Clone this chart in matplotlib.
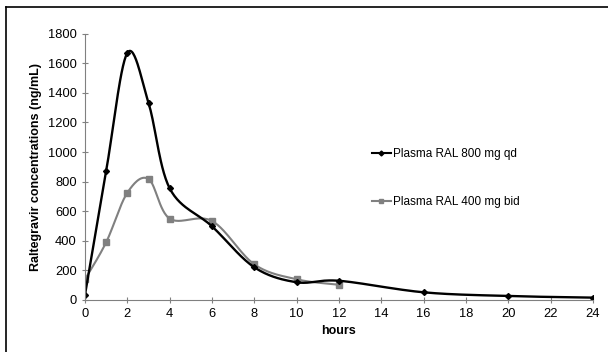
import matplotlib
matplotlib.use('Agg')
import matplotlib.pyplot as plt
import numpy as np
from matplotlib.lines import Line2D

plt.rcParams['font.family'] = ['Liberation Sans', 'DejaVu Sans']

# data
hours_qd = [0, 1, 2, 3, 4, 6, 8, 10, 12, 16, 20, 24]
conc_qd = [35, 872, 1670, 1333, 755, 498, 221, 120, 130, 52, 27, 16]
hours_bid = [0, 1, 2, 3, 4, 6, 8, 10, 12]
conc_bid = [140, 390, 725, 818, 550, 534, 241, 140, 103]

xticks = list(range(0, 25, 2))
yticks = list(range(0, 1801, 200))


def smooth(x, y, n=30):
    # Excel style smoothed line (Catmull-Rom as cubic Bezier)
    p = np.column_stack([x, y]).astype(float)
    pts = np.vstack([p[0], p, p[-1]])
    out = []
    t = np.linspace(0, 1, n)[:, None]
    for i in range(1, len(pts) - 2):
        p0, p1, p2, p3 = pts[i - 1], pts[i], pts[i + 1], pts[i + 2]
        c1 = p1 + (p2 - p0) / 6
        c2 = p2 - (p3 - p1) / 6
        seg = ((1 - t) ** 3) * p1 + 3 * ((1 - t) ** 2) * t * c1 + 3 * (1 - t) * t ** 2 * c2 + t ** 3 * p2
        out.append(seg if i == 1 else seg[1:])
    s = np.vstack(out)
    return s[:, 0], s[:, 1]


fig = plt.figure(figsize=(6.08, 3.52), dpi=100)
ax = fig.add_axes([85 / 608, 1 - 300 / 352, 508 / 608, 266.3 / 352])

gray = '#808080'
sx, sy = smooth(hours_bid, conc_bid)
ax.plot(sx, sy, color=gray, lw=1.5)
ax.plot(hours_bid, conc_bid, ls='none', marker='s', ms=4.5, color=gray)

sx, sy = smooth(hours_qd, conc_qd)
ax.plot(sx, sy, color='black', lw=1.7)
ax.plot(hours_qd, conc_qd, ls='none', marker='D', ms=3, color='black')

# legend handles
h1, = ax.plot([], [], color='black', lw=1.5, marker='D', ms=2.5)
h2, = ax.plot([], [], color=gray, lw=1.5, marker='s', ms=3.5)
ax.legend([h1, h2], ['Plasma RAL 800 mg qd', 'Plasma RAL 400 mg bid'],
          frameon=False, fontsize=8.5, handlelength=1.6, handletextpad=0.2,
          labelspacing=3.0, loc='center left', borderaxespad=0, borderpad=0,
          bbox_to_anchor=(0.565, 0.458))

ax.set_xlim(0, 24)
ax.set_ylim(0, 1800)
ax.set_xticks(xticks)
ax.set_yticks(yticks)
ax.tick_params(labelsize=9.3, color=gray, length=4, direction='inout', pad=4)
for side in ['top', 'right']:
    ax.spines[side].set_visible(False)
for side in ['left', 'bottom']:
    ax.spines[side].set_color(gray)
    ax.spines[side].set_linewidth(0.8)

ax.set_xlabel('hours', fontsize=9, fontweight='bold', labelpad=3)
ax.set_ylabel('Raltegravir concentrations (ng/mL)', fontsize=9, fontweight='bold', labelpad=4)

# outer frame (only top and left edges fall inside the picture)
fx, fy = 6 / 608, 1 - 7 / 352
fig.add_artist(Line2D([fx, 1], [fy, fy], transform=fig.transFigure, color='black', lw=1.2))
fig.add_artist(Line2D([fx, fx], [0, fy], transform=fig.transFigure, color='black', lw=1.2))

fig.savefig('out.png', dpi=100)
